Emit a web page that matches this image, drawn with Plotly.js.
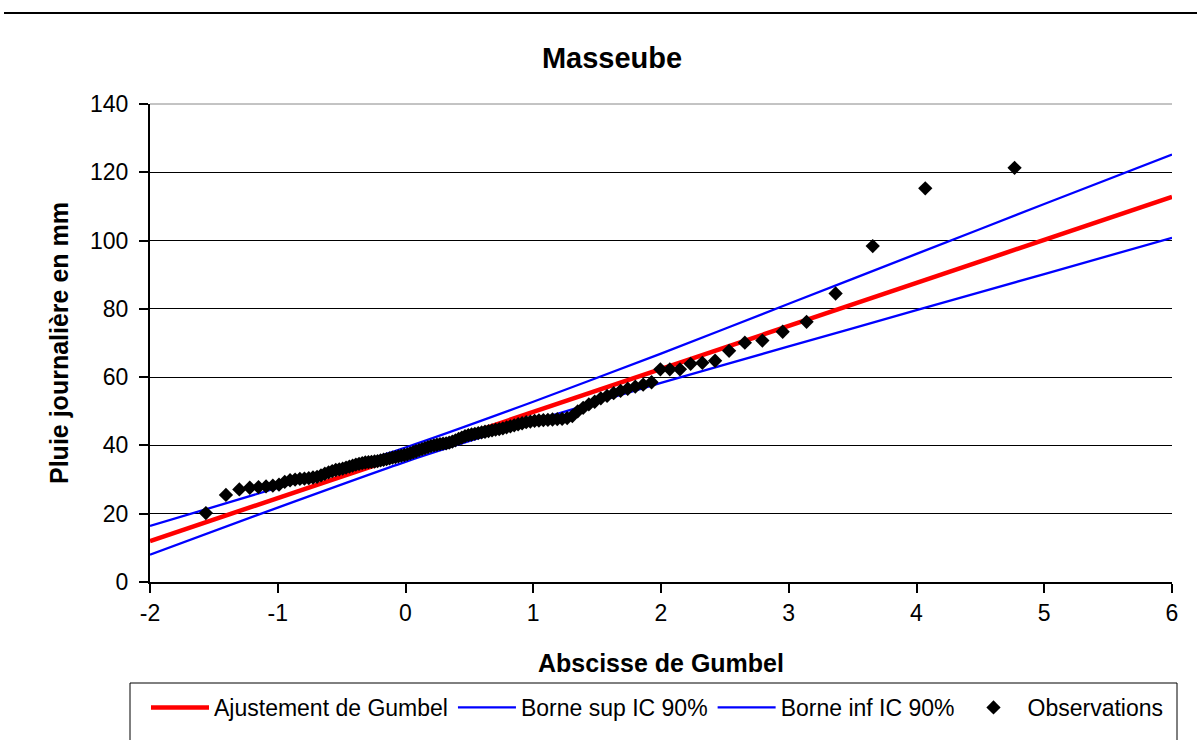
<!DOCTYPE html>
<html>
<head>
<meta charset="utf-8">
<script src="https://cdn.plot.ly/plotly-3.0.1.min.js"></script>
<style>html,body{margin:0;padding:0;background:#fff;}#chart{width:1197px;height:740px;}</style>
</head>
<body>
<div id="chart"></div>
<script>
// Gumbel fit and 90% confidence bounds (reduced variate -> mm)
const gumbelX = [-2, -1, 0, 1, 2, 3, 4, 5, 6];
const fitY = [12.0, 24.6, 37.2, 49.8, 62.4, 75.0, 87.6, 100.2, 112.8];
const upperY = [16.4, 27.6, 39.4, 52.8, 66.9, 81.5, 96.1, 110.7, 125.2];
const lowerY = [8.0, 21.8, 35.2, 47.1, 58.3, 69.0, 79.6, 90.2, 100.8];

// Observations (Gumbel reduced variate, daily rainfall in mm)
const obsX = [-1.5625,-1.4055,-1.3007,-1.2192,-1.1509,-1.0916,-1.0384,-0.9901,-0.9453,-0.9035,
  -0.8641,-0.8268,-0.7912,-0.7570,-0.7240,-0.6922,-0.6614,-0.6314,-0.6023,-0.5738,
  -0.5459,-0.5186,-0.4918,-0.4654,-0.4394,-0.4138,-0.3886,-0.3636,-0.3389,-0.3145,
  -0.2902,-0.2662,-0.2423,-0.2186,-0.1951,-0.1716,-0.1482,-0.1249,-0.1017,-0.0786,
  -0.0555,-0.0325,-0.0095,0.0136,0.0367,0.0596,0.0827,0.1059,0.1291,0.1523,
  0.1756,0.1990,0.2226,0.2463,0.2700,0.2940,0.3180,0.3421,0.3664,0.3910,
  0.4158,0.4407,0.4659,0.4914,0.5170,0.5430,0.5692,0.5957,0.6225,0.6497,
  0.6773,0.7052,0.7335,0.7623,0.7914,0.8210,0.8512,0.8819,0.9130,0.9449,
  0.9773,1.0106,1.0444,1.0791,1.1147,1.1507,1.1881,1.2262,1.2655,1.3060,
  1.3478,1.3907,1.4351,1.4811,1.5288,1.5780,1.6296,1.6836,1.7395,1.7988,
  1.8605,1.9262,1.9951,2.0691,2.1481,2.2321,2.3237,2.4235,2.5331,2.6563,
  2.7935,2.9526,3.1395,3.3668,3.6574,4.0686,4.7677];
const obsY = [20.2,25.5,27.1,27.6,27.8,28.0,28.2,28.5,29.3,29.8,
  30.0,30.2,30.3,30.4,30.6,30.8,31.2,31.7,32.1,32.5,
  32.8,33.0,33.2,33.5,33.8,34.1,34.4,34.6,34.8,35.0,
  35.1,35.2,35.3,35.4,35.6,35.8,36.0,36.2,36.4,36.6,
  36.8,37.0,37.2,37.4,37.7,38.0,38.3,38.6,38.9,39.2,
  39.5,39.8,40.0,40.2,40.4,40.5,40.6,40.8,41.1,41.5,
  41.9,42.3,42.7,43.0,43.2,43.4,43.6,43.8,44.0,44.2,
  44.4,44.6,44.8,45.0,45.3,45.6,45.9,46.2,46.5,46.8,
  47.0,47.2,47.3,47.4,47.5,47.6,47.7,47.8,48.0,48.6,
  50.0,51.0,52.0,52.8,53.8,54.5,55.3,56.0,56.6,57.2,
  57.8,58.5,62.3,62.3,62.3,63.9,64.2,64.8,67.7,70.1,
  70.7,73.3,76.2,84.5,98.4,115.3,121.3];

// Axis ticks
const xTickVals = [-2, -1, 0, 1, 2, 3, 4, 5, 6];
const xTickText = ['-2', '-1', '0', '1', '2', '3', '4', '5', '6'];
const yTickVals = [0, 20, 40, 60, 80, 100, 120, 140];
const yTickText = ['0', '20', '40', '60', '80', '100', '120', '140'];

const seriesNames = ['Ajustement de Gumbel', 'Borne sup IC 90%', 'Borne inf IC 90%', 'Observations'];
const chartTitle = 'Masseube';
const xTitle = 'Abscisse de Gumbel';
const yTitle = 'Pluie journalière en mm';

const FONT = 'Liberation Sans, Arial, sans-serif';

const traces = [
  {x: gumbelX, y: fitY, name: seriesNames[0], mode: 'lines', line: {color: '#ff0000', width: 4.5}},
  {x: gumbelX, y: upperY, name: seriesNames[1], mode: 'lines', line: {color: '#0000ff', width: 2.3, shape: 'spline', smoothing: 0.6}},
  {x: gumbelX, y: lowerY, name: seriesNames[2], mode: 'lines', line: {color: '#0000ff', width: 2.3, shape: 'spline', smoothing: 0.6}},
  {x: obsX, y: obsY, name: seriesNames[3], mode: 'markers', marker: {symbol: 'diamond', color: '#000000', size: 11}}
];

// plot area: x 150..1172, y 104..582
const W = 1197, H = 740;
const L = 150, R = 1172, T = 104, B = 582;
const px = v => (v - L) / (R - L);
const py = v => (B - v) / (B - T);

const layout = {
  width: W, height: H,
  margin: {l: L, r: W - R, t: T, b: H - B, pad: 0, autoexpand: false},
  paper_bgcolor: '#ffffff', plot_bgcolor: '#ffffff',
  font: {family: FONT, color: '#000000', size: 23},
  title: {text: chartTitle, font: {family: FONT, size: 29, weight: 'bold', color: '#000'},
          xref: 'paper', x: px(612), xanchor: 'center', yref: 'container', y: 1 - 58 / H, yanchor: 'middle'},
  xaxis: {
    range: [-2, 6], tickmode: 'array', tickvals: xTickVals, ticktext: xTickText,
    showgrid: false, zeroline: false, automargin: false,
    showline: true, linecolor: '#000', linewidth: 2,
    ticks: 'outside', ticklen: 9, tickwidth: 2, tickcolor: '#000',
    tickfont: {family: FONT, size: 23, color: '#000'},
    title: {text: xTitle, font: {family: FONT, size: 25, weight: 'bold', color: '#000'}, standoff: 30}
  },
  yaxis: {
    range: [0, 140], tickmode: 'array', tickvals: yTickVals, ticktext: yTickText,
    showgrid: true, gridcolor: '#000', gridwidth: 1.2, zeroline: false, automargin: false,
    showline: true, linecolor: '#000', linewidth: 2,
    ticks: 'outside', ticklen: 9, tickwidth: 2, tickcolor: '#000',
    ticklabelstandoff: 6,
    tickfont: {family: FONT, size: 23, color: '#000'},
    title: {text: yTitle, font: {family: FONT, size: 25, weight: 'bold', color: '#000'}, standoff: 14}
  },
  showlegend: true,
  legend: {
    orientation: 'h', xref: 'paper', yref: 'paper', x: px(146), y: py(686), xanchor: 'left', yanchor: 'top',
    font: {family: FONT, size: 23, color: '#000'}, itemwidth: 58,
    bgcolor: 'rgba(0,0,0,0)', borderwidth: 0, traceorder: 'normal'
  },
  shapes: [
    {type: 'line', xref: 'paper', yref: 'paper', x0: px(4), x1: px(1197), y0: py(13), y1: py(13),
     line: {color: '#000', width: 2}},
    {type: 'line', xref: 'paper', yref: 'paper', x0: 0, x1: 1, y0: 1, y1: 1,
     line: {color: '#888', width: 1}},
    {type: 'rect', xref: 'paper', yref: 'paper', x0: px(130), x1: px(1177), y0: py(760), y1: py(683),
     line: {color: '#000', width: 1}}
  ]
};

Plotly.newPlot('chart', traces, layout, {displayModeBar: false, staticPlot: true});
</script>
</body>
</html>
